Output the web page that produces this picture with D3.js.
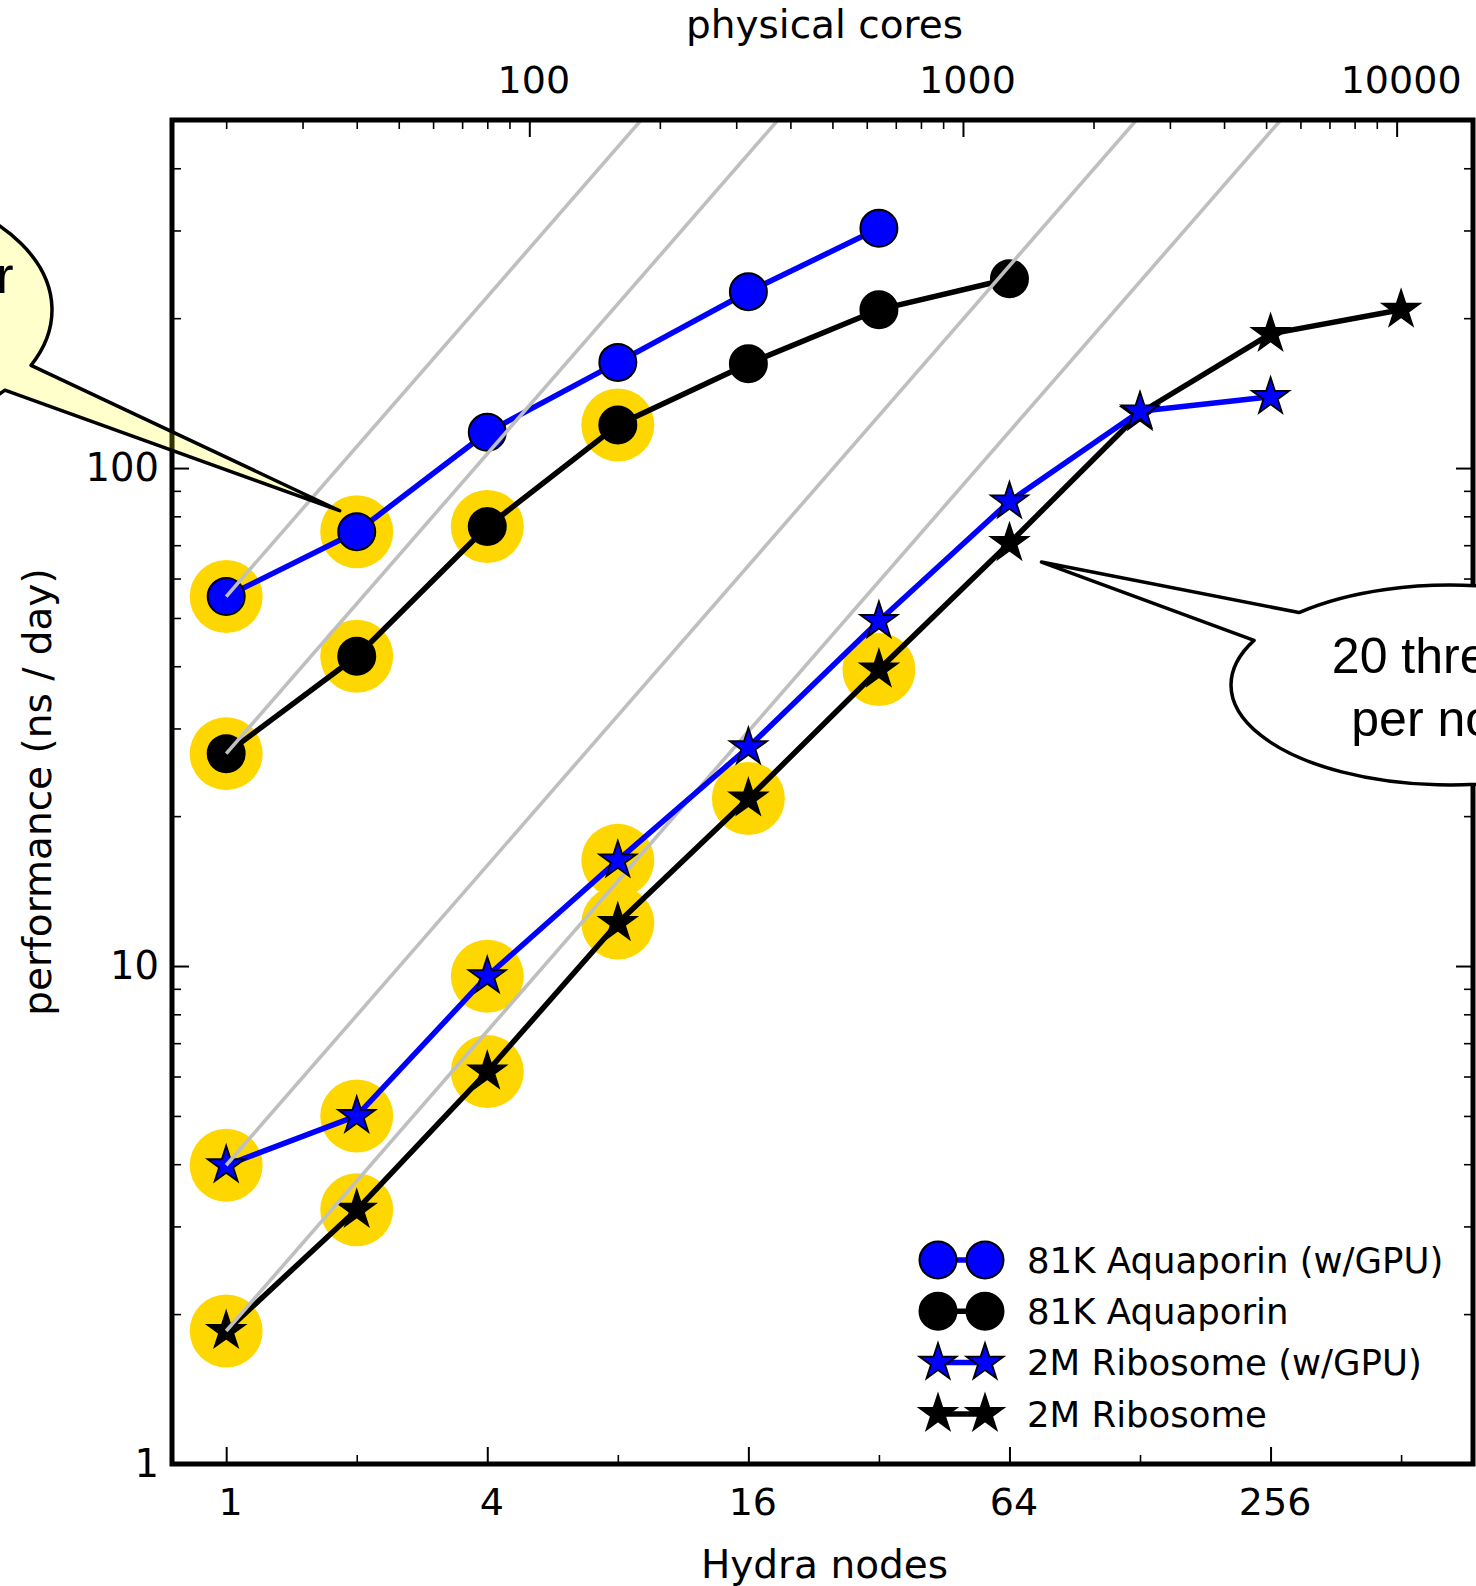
<!DOCTYPE html>
<html>
<head>
<meta charset="utf-8">
<script src="https://cdn.jsdelivr.net/npm/d3@7"></script>
<style>
  html, body { margin: 0; padding: 0; background: #fff; }
  svg { display: block; }
</style>
</head>
<body>
<script>
// ---- data: performance (ns/day) versus number of Hydra nodes ----
const aquaGpuNodes = [1, 2, 4, 8, 16, 32];
const aquaGpuPerf  = [55.2, 74.5, 118, 163, 226, 303];
const aquaGpuHT    = [1, 2];

const aquaNodes = [1, 2, 4, 8, 16, 32, 64];
const aquaPerf  = [26.7, 41.9, 76.3, 122, 162, 208, 240];
const aquaHT    = [1, 2, 4, 8];

const riboGpuNodes = [1, 2, 4, 8, 16, 32, 64, 128, 256];
const riboGpuPerf  = [3.98, 5.0, 9.54, 16.3, 27.5, 49.3, 85.7, 130, 139];
const riboGpuHT    = [1, 2, 4, 8];

const riboNodes = [1, 2, 4, 8, 16, 32, 64, 128, 256, 512];
const riboPerf  = [1.85, 3.24, 6.14, 12.2, 21.7, 39.4, 70.7, 129, 186, 208];
const riboHT    = [1, 2, 4, 8, 16, 32];

const seriesNames = ["81K Aquaporin (w/GPU)", "81K Aquaporin", "2M Ribosome (w/GPU)", "2M Ribosome"];

// axis ticks
const nodeTicks      = [1, 4, 16, 64, 256];
const nodeMinorTicks = [2, 8, 32, 128, 512];
const coreTicks      = [100, 1000, 10000];
const perfTicks      = [1, 10, 100];
const coresPerNode   = 20;

const bubbleRight = ["20 threads", "per node"];
const bubbleLeft  = ["40 threads per", "node"];

// ---- layout ----
const W = 1476, H = 1586;
const L = 172, R = 1473, T = 120, B = 1464;
const BLUE = "#0000ff", BLACK = "#000000", GOLD = "#ffd700", GREY = "#bfbfbf";

const series = [
  { name: seriesNames[0], nodes: aquaGpuNodes, perf: aquaGpuPerf, ht: aquaGpuHT, color: BLUE,  marker: "circle" },
  { name: seriesNames[1], nodes: aquaNodes,    perf: aquaPerf,    ht: aquaHT,    color: BLACK, marker: "circle" },
  { name: seriesNames[2], nodes: riboGpuNodes, perf: riboGpuPerf, ht: riboGpuHT, color: BLUE,  marker: "star" },
  { name: seriesNames[3], nodes: riboNodes,    perf: riboPerf,    ht: riboHT,    color: BLACK, marker: "star" }
];

const x  = d3.scaleLog().base(2).domain([0.75, 750]).range([L, R]);
const xc = d3.scaleLog().domain([0.75 * coresPerNode, 750 * coresPerNode]).range([L, R]);
const y  = d3.scaleLog().domain([1, 500]).range([B, T]);

const svg = d3.select("body").append("svg")
  .attr("width", W).attr("height", H)
  .attr("viewBox", `0 0 ${W} ${H}`);

svg.append("defs").append("clipPath").attr("id", "plotclip")
  .append("rect").attr("x", L).attr("y", T).attr("width", R - L).attr("height", B - T);

function starPath(Ro) {
  const ri = Ro * 0.381966;
  const pts = [];
  for (let i = 0; i < 10; i++) {
    const a = -Math.PI / 2 + i * Math.PI / 5;
    const rr = i % 2 ? ri : Ro;
    pts.push([rr * Math.cos(a), rr * Math.sin(a)]);
  }
  return "M" + pts.map(p => p[0].toFixed(2) + "," + p[1].toFixed(2)).join("L") + "Z";
}

function drawMarker(g, kind, color, cx, cy) {
  if (kind === "circle") {
    g.append("circle").attr("cx", cx).attr("cy", cy).attr("r", 18.5)
      .attr("fill", color).attr("stroke", "#000").attr("stroke-width", 2);
  } else {
    g.append("path").attr("d", starPath(19.5))
      .attr("transform", `translate(${cx},${cy})`)
      .attr("fill", color).attr("stroke", "#000").attr("stroke-width", 1.8)
      .attr("stroke-linejoin", "miter");
  }
}

const plotG = svg.append("g").attr("clip-path", "url(#plotclip)");

// hyperthreaded runs: gold halo behind the point
series.forEach(s => {
  s.ht.forEach(n => {
    const i = s.nodes.indexOf(n);
    plotG.append("circle")
      .attr("cx", x(n)).attr("cy", y(s.perf[i])).attr("r", 36.5)
      .attr("fill", GOLD);
  });
});

const line = d3.line().x(d => x(d[0])).y(d => y(d[1]));

// each series, followed by its ideal (linear) scaling line from the 1-node run
[0, 1, 3, 2].forEach(k => {
  const s = series[k];
  const pts = s.nodes.map((n, i) => [n, s.perf[i]]);
  const g = plotG.append("g");
  g.append("path").attr("d", line(pts))
    .attr("fill", "none").attr("stroke", s.color).attr("stroke-width", 5.5)
    .attr("stroke-linejoin", "round");
  pts.forEach(p => drawMarker(g, s.marker, s.color, x(p[0]), y(p[1])));

  const p0 = s.perf[0];
  const nEnd = y.domain()[1] / p0 * 1.02;
  g.append("path").attr("d", line([[1, p0], [nEnd, p0 * nEnd]]))
    .attr("fill", "none").attr("stroke", GREY).attr("stroke-width", 3.6);
});

// ---- legend ----
const legend = svg.append("g");
const legendY0 = 1260, legendDy = 51.3;
series.forEach((s, i) => {
  const ly = legendY0 + i * legendDy;
  legend.append("line").attr("x1", 938).attr("x2", 985).attr("y1", ly).attr("y2", ly)
    .attr("stroke", s.color).attr("stroke-width", 5.5);
  drawMarker(legend, s.marker, s.color, 938, ly);
  drawMarker(legend, s.marker, s.color, 985, ly);
  legend.append("text").attr("x", 1027).attr("y", ly).attr("dy", "0.36em")
    .attr("font-family", "'DejaVu Sans'").attr("font-size", 35.5).attr("fill", "#000")
    .text(s.name);
});

// ---- axes ----
function styleAxis(g, size) {
  g.attr("font-family", null).attr("font-size", null);
  g.select(".domain").remove();
  g.selectAll(".tick line").attr("stroke", "#000").attr("stroke-width", 2);
  g.selectAll(".tick text").attr("fill", "#000")
    .attr("font-family", "'DejaVu Sans'").attr("font-size", size);
}
function minorAxis(axis, g) {
  g.call(axis);
  g.attr("font-family", null).attr("font-size", null);
  g.select(".domain").remove();
  g.selectAll(".tick line").attr("stroke", "#000").attr("stroke-width", 1.6);
  g.selectAll(".tick text").remove();
}

const perfMinor = [];
[1, 10, 100].forEach(d => { for (let m = 2; m <= 9; m++) if (d * m < 500) perfMinor.push(d * m); });
const coreMinor = [];
[10, 100, 1000].forEach(d => { for (let m = 2; m <= 9; m++) { const v = d * m; if (v > 15 && v < 15000 && coreTicks.indexOf(v) < 0) coreMinor.push(v); } });

// bottom: Hydra nodes
const gB = svg.append("g").attr("transform", `translate(0,${B})`);
gB.call(d3.axisBottom(x).tickValues(nodeTicks).tickSize(-17).tickPadding(24).tickFormat(d3.format("d")));
styleAxis(gB, 38);
gB.selectAll(".tick text").attr("dx", 4);
minorAxis(d3.axisBottom(x).tickValues(nodeMinorTicks).tickSize(-9), svg.append("g").attr("transform", `translate(0,${B})`));

// top: physical cores
const gT = svg.append("g").attr("transform", `translate(0,${T})`);
gT.call(d3.axisTop(xc).tickValues(coreTicks).tickSize(-17).tickPadding(27).tickFormat(d3.format("d")));
styleAxis(gT, 38);
gT.selectAll(".tick text").attr("dx", 4);
minorAxis(d3.axisTop(xc).tickValues(coreMinor).tickSize(-9), svg.append("g").attr("transform", `translate(0,${T})`));

// left: performance
const gL = svg.append("g").attr("transform", `translate(${L},0)`);
gL.call(d3.axisLeft(y).tickValues(perfTicks).tickSize(-17).tickPadding(13).tickFormat(d3.format("d")));
styleAxis(gL, 38.5);
minorAxis(d3.axisLeft(y).tickValues(perfMinor).tickSize(-9), svg.append("g").attr("transform", `translate(${L},0)`));

// right: mirrored ticks
const gR = svg.append("g").attr("transform", `translate(${R},0)`);
gR.call(d3.axisRight(y).tickValues(perfTicks).tickSize(-17).tickFormat(""));
styleAxis(gR, 38);
minorAxis(d3.axisRight(y).tickValues(perfMinor).tickSize(-9), svg.append("g").attr("transform", `translate(${R},0)`));

// frame
svg.append("rect").attr("x", L).attr("y", T).attr("width", R - L).attr("height", B - T)
  .attr("fill", "none").attr("stroke", "#000").attr("stroke-width", 5);

// axis titles
const cxPlot = (L + R) / 2, cyPlot = (T + B) / 2;
svg.append("text").attr("x", cxPlot + 2).attr("y", 1578).attr("text-anchor", "middle")
  .attr("font-family", "'DejaVu Sans'").attr("font-size", 39).text("Hydra nodes");
svg.append("text").attr("x", cxPlot + 2).attr("y", 38).attr("text-anchor", "middle")
  .attr("font-family", "'DejaVu Sans'").attr("font-size", 39).text("physical cores");
svg.append("text").attr("transform", `translate(51,${cyPlot}) rotate(-90)`).attr("text-anchor", "middle")
  .attr("font-family", "'DejaVu Sans'").attr("font-size", 39).text("performance (ns / day)");

// ---- speech bubbles ----
function bubble(cx, cy, rx, ry, t1, t2, tip, sweep) {
  const p1 = [cx + rx * Math.cos(t1), cy + ry * Math.sin(t1)];
  const p2 = [cx + rx * Math.cos(t2), cy + ry * Math.sin(t2)];
  return `M${p1[0]},${p1[1]} A${rx},${ry} 0 1 ${sweep} ${p2[0]},${p2[1]} L${tip[0]},${tip[1]} Z`;
}

// right bubble (points at the 64-node 2M Ribosome run)
const rb = { cx: 1450, cy: 685, rx: 219, ry: 100 };
const tipR = [x(riboNodes[6]) + 32, y(riboPerf[6]) + 19];
svg.append("path")
  .attr("d", bubble(rb.cx, rb.cy, rb.rx, rb.ry, Math.PI + 0.810, Math.PI + 0.463, tipR, 1))
  .attr("fill", "#fff").attr("stroke", "#000").attr("stroke-width", 3.5)
  .attr("stroke-linejoin", "round");
bubbleRight.forEach((t, i) => {
  svg.append("text").attr("x", rb.cx).attr("y", 673 + i * 63).attr("text-anchor", "middle")
    .attr("font-family", "'Liberation Sans', Arial, sans-serif").attr("font-size", 50).text(t);
});

// left bubble (points at the 2-node 81K Aquaporin GPU run)
const lb = { cx: -154, cy: 310, rx: 206, ry: 126 };
const tipL = [x(aquaGpuNodes[1]) - 17, y(aquaGpuPerf[1]) - 21];
svg.append("path")
  .attr("d", bubble(lb.cx, lb.cy, lb.rx, lb.ry, 0.455, 0.690, tipL, 0))
  .attr("fill", "#ffff00").attr("fill-opacity", 0.2)
  .attr("stroke", "#000").attr("stroke-width", 3.5).attr("stroke-linejoin", "round");
bubbleLeft.forEach((t, i) => {
  svg.append("text").attr("x", lb.cx).attr("y", 293 + i * 63).attr("text-anchor", "middle")
    .attr("font-family", "'Liberation Sans', Arial, sans-serif").attr("font-size", 52).text(t);
});
</script>
</body>
</html>
